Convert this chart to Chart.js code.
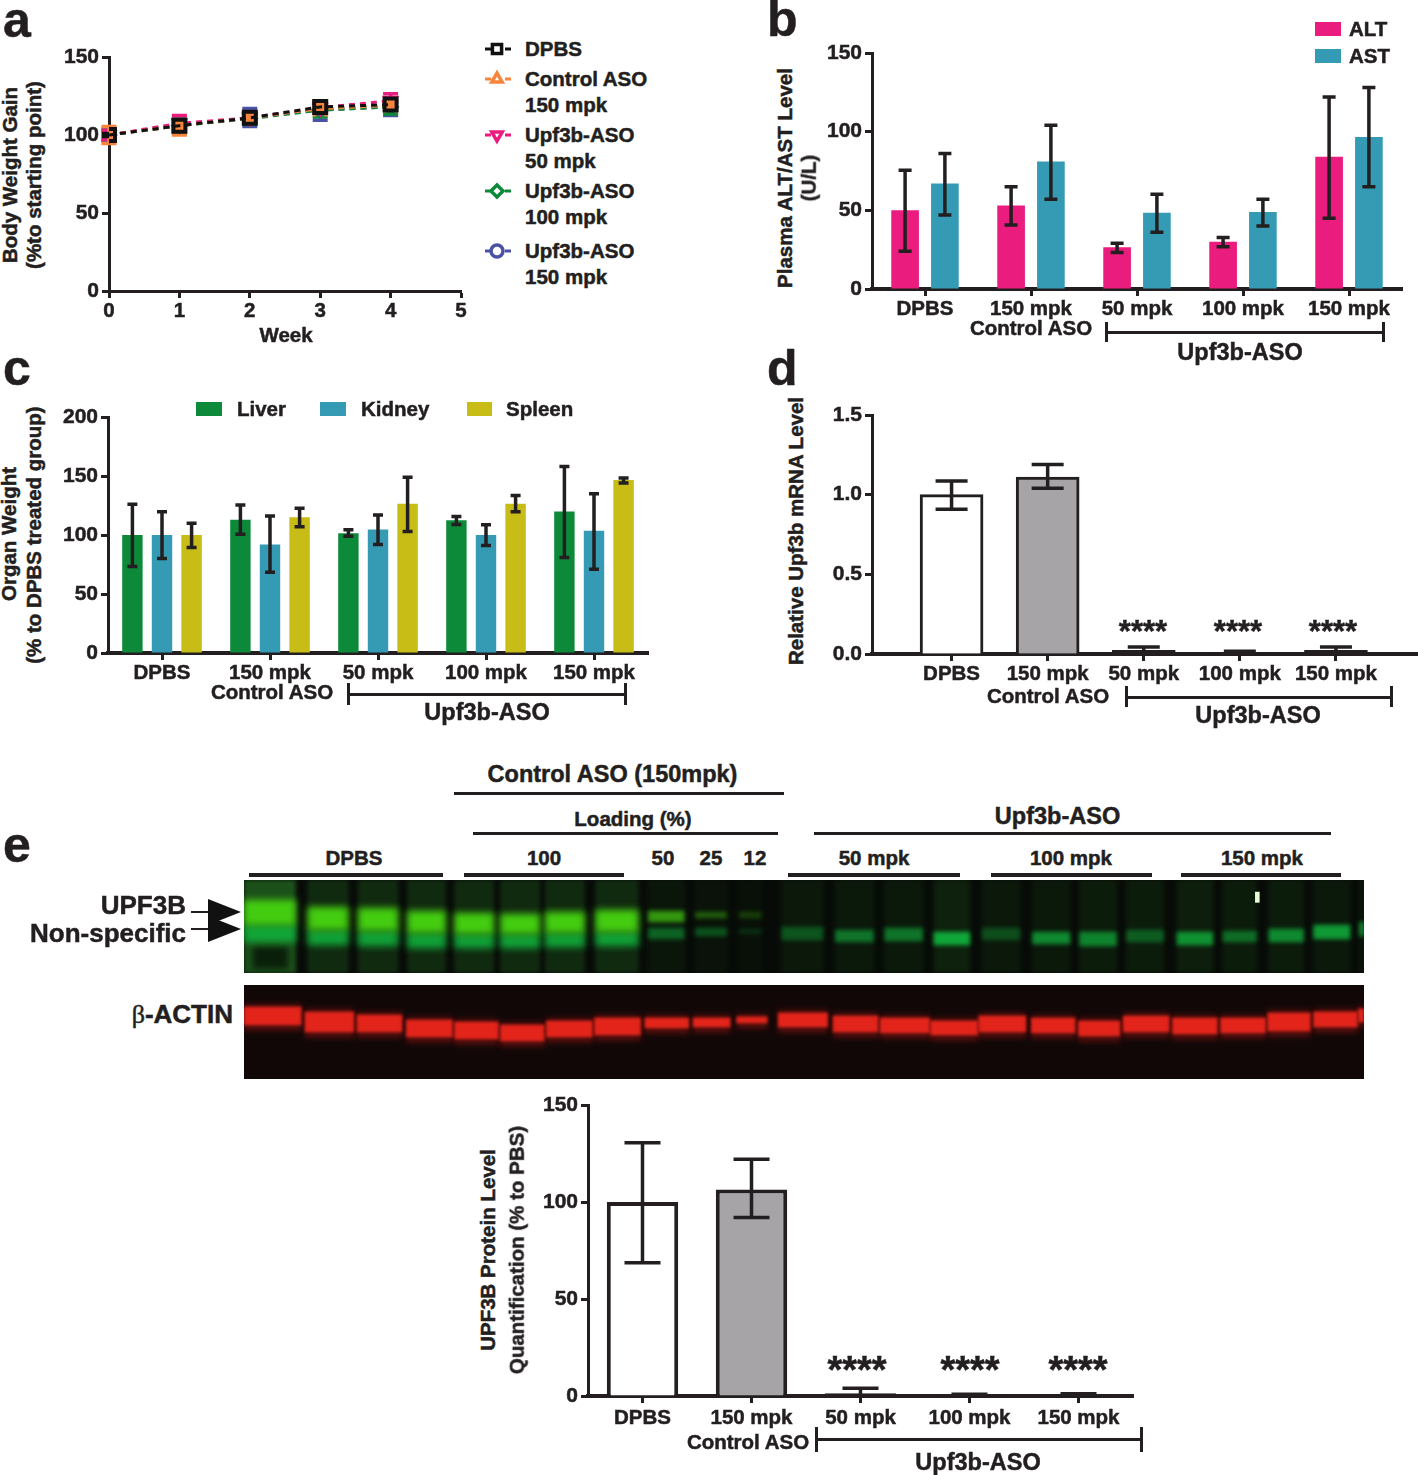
<!DOCTYPE html>
<html>
<head>
<meta charset="utf-8">
<title>Upf3b ASO figure</title>
<script src="https://cdn.jsdelivr.net/npm/chart.js@4"></script>
<style>
    html, body { margin: 0; padding: 0; background: #fff; }
    #page { position: relative; width: 1418px; height: 1475px; overflow: hidden; background: #fff; }
    canvas { position: absolute; display: block; }
    .txt { position: absolute; white-space: nowrap; line-height: 1; font-family: "Liberation Sans", sans-serif; font-weight: bold; color: #231f20; -webkit-text-stroke: 0.5px #231f20; }
    .rule { position: absolute; background: #231f20; }
    .serif { font-family: "Liberation Serif", serif; font-weight: normal; }
</style>
</head>
<body>
<div id="page"></div>
<script>
// panel a - body weight
const weeks = [0, 1, 2, 3, 4];
const dpbsWeight = [100, 106, 111, 118, 119.5];
const dpbsWeightHigh = [101, 108, 113, 120, 121];
const dpbsWeightLow = [99, 104, 109, 116, 118];
const controlWeight = [100, 106, 111, 117, 119];
const controlWeightHigh = [105.5, 110, 113, 121, 122];
const controlWeightLow = [94.5, 100, 108, 113, 115.5];
const upf50Weight = [100, 107.5, 111, 117.5, 122];
const upf50WeightHigh = [103, 112.5, 114, 121, 126.5];
const upf50WeightLow = [97, 103, 108, 114, 118];
const upf100Weight = [100, 106, 110.5, 116, 118];
const upf100WeightHigh = [103, 110, 114, 120, 122];
const upf100WeightLow = [97, 102, 107, 111.5, 113.5];
const upf150Weight = [100, 106, 111, 116, 118];
const upf150WeightHigh = [104, 111, 117, 120, 122];
const upf150WeightLow = [96, 101, 105.5, 109.5, 112.5];

// group names shared by the bar panels
const groups = ["DPBS", "150 mpk", "50 mpk", "100 mpk", "150 mpk"];

// panel b - plasma ALT/AST
const altLevel = [50, 53, 26.5, 30, 84];
const altHigh = [75.5, 65, 29, 32.7, 122];
const altLow = [24, 40.6, 23.2, 26.8, 45];
const astLevel = [67, 81, 48.5, 49, 96.6];
const astHigh = [86.2, 104, 60.2, 57, 128];
const astLow = [47, 57, 36, 40, 65];

// panel c - organ weight
const liverWeight = [100, 113, 101.5, 112.5, 120];
const liverHigh = [126, 125.5, 104.4, 115.7, 158];
const liverLow = [73.3, 100.7, 99, 109, 81];
const kidneyWeight = [100, 92, 104.7, 100, 103.5];
const kidneyHigh = [119.6, 116, 117, 108.6, 135];
const kidneyLow = [80, 68.5, 92, 91, 71];
const spleenWeight = [100, 115, 126.4, 126.4, 146.7];
const spleenHigh = [110, 122.7, 149, 133.4, 148.4];
const spleenLow = [89.4, 107, 103, 119.6, 144];

// panel d - mRNA
const mrnaLevel = [1.0, 1.11, 0.023, 0.01, 0.023];
const mrnaHigh = [1.086, 1.19, 0.044, 0.017, 0.044];
const mrnaLow = [0.908, 1.04, 0.003, 0.003, 0.002];

// panel e - protein
const proteinLevel = [100, 106.5, 1.4, 0.5, 0.5];
const proteinHigh = [130.6, 122, 4, 0.9, 1.2];
const proteinLow = [68.7, 92, 0, 0, 0];

// panel e - gel lanes, % of the gel width / height
const greenLaneLeft = [0, 5.7, 10.2, 14.6, 18.8, 22.9, 26.9, 31.4, 36.1, 40.3, 44.2, 48.0, 52.8, 57.2, 61.6, 65.9, 70.4, 74.6, 78.8, 83.3, 87.4, 91.5, 95.5, 99.6];
const greenLaneRight = [4.6, 9.3, 13.75, 18.0, 22.3, 26.4, 30.4, 35.2, 39.3, 43.1, 46.2, 51.7, 56.2, 60.6, 64.8, 69.3, 73.75, 77.9, 82.1, 86.5, 90.4, 94.6, 98.75, 100];
const upperTop = [21.5, 29, 30.1, 33.3, 35.5, 36.6, 34.4, 32.3, 33.3, 34.4, 34.4];
const upperBot = [48.4, 53.8, 54.8, 57, 58.1, 58.1, 57, 55.9, 45.2, 40.9, 40.9];
const upperGlow = [1, 1, 1, 1, 1, 1, 1, 1, 0.7, 0.4, 0.25];
const lowerTop = [48.4, 53.8, 54.8, 57, 58.1, 58.1, 57, 55.9, 51.6, 51.6, 52.7, 50.5, 53.8, 51.6, 55.9, 51.6, 55.9, 55.9, 53.8, 55.9, 54.8, 52.7, 48.4, 45.2];
const lowerBot = [66.7, 69.9, 71, 73.1, 73.1, 73.1, 72, 71, 63.4, 60.2, 58.1, 64.5, 66.7, 65.6, 69.9, 64.5, 68.8, 71, 66.7, 69.9, 66.7, 66.7, 63.4, 60.2];
const lowerGlow = [0.9, 0.9, 0.9, 0.9, 0.9, 0.9, 0.9, 0.9, 0.5, 0.4, 0.2, 0.4, 0.6, 0.6, 0.95, 0.35, 0.75, 0.7, 0.45, 0.8, 0.55, 0.75, 0.85, 0.8];
const smearGlow = [0.5, 0.22, 0.22, 0.22, 0.22, 0.22, 0.22, 0.22, 0.08, 0.05, 0.03, 0.09, 0.1, 0.1, 0.16, 0.09, 0.1, 0.12, 0.12, 0.14, 0.12, 0.12, 0.1, 0.08];
const actinLeft = [0, 5.45, 10.1, 14.5, 18.8, 22.9, 27, 31.3, 35.8, 40.1, 44, 47.7, 52.6, 56.8, 61.3, 65.6, 70.3, 74.5, 78.5, 82.9, 87.2, 91.4, 95.5, 99.5];
const actinRight = [5.1, 9.8, 14.1, 18.6, 22.7, 26.8, 31.1, 35.4, 39.7, 43.4, 46.7, 52.1, 56.6, 61.2, 65.5, 69.8, 74.2, 78.2, 82.6, 86.9, 91.2, 95.2, 99.4, 100];
const actinTop = [23.4, 28.7, 31.9, 37.2, 39.4, 42.6, 38.3, 35.1, 35.1, 35.1, 34, 29.8, 33, 35.1, 38.3, 33, 35.1, 38.3, 33, 35.1, 35.1, 29.8, 28.7, 25.5];
const actinBot = [42.6, 50, 50, 55.3, 57.4, 59.6, 55.3, 53.2, 45.7, 44.7, 40.4, 44.7, 50, 51.1, 53.2, 50, 51.1, 54.3, 50, 52.1, 51.1, 48.9, 44.7, 39.4];

const INK = "#231f20";
const PINK = "#ea1c7d";
const TEAL = "#359bb5";
const GREEN = "#0c8a3a";
const YELLOW = "#c8bd16";
const ORANGE = "#f7863c";
const BLUE = "#4a52a5";
const GREY = "#a6a4a7";
const GEL_W = 1120;

const page = document.getElementById("page");
Chart.defaults.animation = false;
Chart.defaults.font.family = "'Liberation Sans', sans-serif";
Chart.defaults.font.weight = "bold";
Chart.defaults.color = INK;

//text helper, x is the centre unless align says otherwise
function label(text, x, y, size, align) {
    const d = document.createElement("div");
    d.className = "txt";
    d.textContent = text;
    d.style.left = x + "px";
    d.style.top = y + "px";
    d.style.fontSize = size + "px";
    let tx = "-50%";
    if (align == "left") tx = "0";
    if (align == "right") tx = "-100%";
    d.style.transform = "translate(" + tx + ",-50%)";
    page.appendChild(d);
    return d;
}

function vlabel(text, x, y, size) {
    const d = label(text, x, y, size);
    d.style.transform = "translate(-50%,-50%) rotate(-90deg)";
    return d;
}

function rule(x1, y1, x2, y2) {
    const d = document.createElement("div");
    d.className = "rule";
    d.style.left = x1 + "px";
    d.style.top = y1 + "px";
    d.style.width = (x2 - x1) + "px";
    d.style.height = (y2 - y1) + "px";
    page.appendChild(d);
}

function bracket(x1, x2, y, up, down) {
    rule(x1, y - 1.5, x2, y + 1.5);
    rule(x1 - 1.5, y - up, x1 + 1.5, y + down);
    rule(x2 - 1.5, y - up, x2 + 1.5, y + down);
}

function swatch(x1, y1, x2, y2, color) {
    rule(x1, y1, x2, y2);
    page.lastChild.style.background = color;
}

//canvas whose chart area lands on L,T,R,B
const AXIS_W = 60, AXIS_H = 40, PAD_T = 20, NUDGE = 1;
function addCanvas(L, T, R, B, padR) {
    const c = document.createElement("canvas");
    c.width = R - L + AXIS_W + padR;
    c.height = B - T + PAD_T + AXIS_H;
    c.style.left = (L - AXIS_W) + "px";
    c.style.top = (T - PAD_T + NUDGE) + "px";
    page.appendChild(c);
    return c;
}

//whiskers, read from errHigh / errLow on each dataset
const errorBars = {
    id: "errorBars",
    draw(chart) {
        const y = chart.scales.y;
        const ctx = chart.ctx;
        const n = chart.data.datasets.length;
        for (let i = n - 1; i >= 0; i--) {
            const ds = chart.data.datasets[i];
            if (!ds.errHigh) continue;
            const cap = ds.capWidth / 2;
            ctx.save();
            ctx.strokeStyle = ds.errColor || INK;
            ctx.lineWidth = 3.5;
            chart.getDatasetMeta(i).data.forEach((el, j) => {
                const hi = y.getPixelForValue(ds.errHigh[j]);
                const lo = y.getPixelForValue(ds.errLow[j]);
                ctx.beginPath();
                ctx.moveTo(el.x, hi);
                ctx.lineTo(el.x, lo);
                ctx.moveTo(el.x - cap, hi);
                ctx.lineTo(el.x + cap, hi);
                ctx.moveTo(el.x - cap, lo);
                ctx.lineTo(el.x + cap, lo);
                ctx.stroke();
            });
            ctx.restore();
        }
    },
    beforeDatasetsDraw(chart, args, opts) {
        if (opts.under) this.draw(chart);
    },
    afterDatasetsDraw(chart, args, opts) {
        if (!opts.under) this.draw(chart);
    }
};

function axisY(max, step, fmt) {
    return {
        min: 0,
        max: max,
        afterFit(s) { s.width = AXIS_W; },
        border: { color: INK, width: 3 },
        grid: { drawOnChartArea: false, tickLength: 7, tickWidth: 3, tickColor: INK },
        ticks: { stepSize: step, padding: 3, font: { size: 21 }, color: INK, textStrokeColor: INK, textStrokeWidth: 0.5, callback: fmt }
    };
}

function axisX(pad) {
    return {
        afterFit(s) { s.height = AXIS_H; },
        border: { color: INK, width: 4 },
        grid: { offset: false, drawOnChartArea: false, tickLength: 7, tickWidth: 3, tickColor: INK },
        ticks: { padding: pad || 1, font: { size: 20.5 }, color: INK, textStrokeColor: INK, textStrokeWidth: 0.5, autoSkip: false, maxRotation: 0, minRotation: 0 }
    };
}

const chartOpts = (scales, padR, extra) => ({
    responsive: false,
    layout: { padding: { top: PAD_T, right: padR, left: 0, bottom: 0 } },
    plugins: Object.assign({ legend: { display: false }, tooltip: { enabled: false } }, extra || {}),
    scales: scales
});

const barSet = (values, high, low, color, cap) => ({
    data: values, errHigh: high, errLow: low, capWidth: cap,
    backgroundColor: color, borderWidth: 0
});

// ---------- panel a ----------
const lineSet = (values, high, low, color, style, radius, fill, rotation) => ({
    data: values.map((v, i) => ({ x: weeks[i], y: v })),
    errHigh: high, errLow: low, capWidth: 15, errColor: color,
    borderColor: color, borderWidth: 3, borderDash: [6, 5],
    pointStyle: style, pointRadius: radius, pointBorderColor: color, pointBorderWidth: 4,
    pointBackgroundColor: fill, pointRotation: rotation || 0
});

const weightSets = [
    lineSet(dpbsWeight, dpbsWeightHigh, dpbsWeightLow, "#111111", "rect", 8.5, "rgba(0,0,0,0)"),
    lineSet(controlWeight, controlWeightHigh, controlWeightLow, ORANGE, "rect", 6.5, ORANGE),
    lineSet(upf50Weight, upf50WeightHigh, upf50WeightLow, PINK, "triangle", 6, PINK, 180),
    lineSet(upf100Weight, upf100WeightHigh, upf100WeightLow, GREEN, "rectRot", 6, GREEN),
    lineSet(upf150Weight, upf150WeightHigh, upf150WeightLow, BLUE, "circle", 5, BLUE)
];
const legendMarks = ["rect", "triangle", "triangle", "rectRot", "circle"];

const legendRows = [49, 79, 135, 191, 251];
const legendTexts = [["DPBS"], ["Control ASO", "150 mpk"], ["Upf3b-ASO", "50 mpk"], ["Upf3b-ASO", "100 mpk"], ["Upf3b-ASO", "150 mpk"]];

//legend keys for panel a, the texts are real labels next to them
const weightKeys = {
    id: "weightKeys",
    afterDraw(chart) {
        const ctx = chart.ctx;
        const left = 109 - AXIS_W, top = 56 - PAD_T + NUDGE;
        chart.data.datasets.forEach((ds, i) => {
            const y = legendRows[i] - top;
            ctx.save();
            ctx.strokeStyle = ds.borderColor;
            ctx.lineWidth = 3;
            ctx.setLineDash([6, 14]);
            ctx.beginPath();
            ctx.moveTo(485 - left, y);
            ctx.lineTo(511 - left, y);
            ctx.stroke();
            ctx.setLineDash([]);
            ctx.lineWidth = 3.5;
            ctx.fillStyle = "#fff";
            Chart.helpers.drawPoint(ctx, {
                pointStyle: legendMarks[i], radius: legendMarks[i] == "rect" ? 6.5 : 6,
                rotation: ds.pointRotation, borderWidth: 3.5
            }, 497 - left, y);
            ctx.restore();
        });
    }
};

new Chart(addCanvas(109, 56, 461, 290, 60), {
    type: "line",
    data: { datasets: weightSets },
    options: chartOpts({
        x: Object.assign(axisX(), { type: "linear", min: 0, max: 5, border: { color: INK, width: 3 } }),
        y: axisY(150, 50)
    }, 60, { errorBars: { under: true } }),
    plugins: [errorBars, weightKeys]
});
legendTexts.forEach((lines, i) => {
    label(lines[0], 525, legendRows[i], 20.5, "left");
    if (lines[1]) label(lines[1], 525, legendRows[i] + 25.5, 20.5, "left");
});
label("a", 3, 20, 50, "left");
vlabel("Body Weight Gain", 10, 175, 20.5);
vlabel("(%to starting point)", 34, 175, 20.5);
label("Week", 286, 335, 20.5);

// ---------- panel b ----------
new Chart(addCanvas(872, 52, 1402, 288, 3), {
    type: "bar",
    data: {
        labels: groups,
        datasets: [
            barSet(altLevel, altHigh, altLow, PINK, 13),
            barSet(astLevel, astHigh, astLow, TEAL, 13)
        ]
    },
    options: Object.assign(chartOpts({ x: axisX(), y: axisY(150, 50) }, 3), {
        datasets: { bar: { categoryPercentage: 0.751, barPercentage: 0.695 } }
    }),
    plugins: [errorBars]
});
label("b", 767, 19, 50, "left");
vlabel("Plasma ALT/AST Level", 785, 178, 20.5);
vlabel("(U/L)", 809, 178, 20.5);
swatch(1315, 22, 1341, 36, PINK);
swatch(1315, 49, 1341, 63, TEAL);
label("ALT", 1349, 29, 20.5, "left");
label("AST", 1349, 56, 20.5, "left");
label("Control ASO", 1031, 328, 20.5);
bracket(1106, 1383, 332, 10, 10);
label("Upf3b-ASO", 1240, 353, 23.5);

// ---------- panel c ----------
new Chart(addCanvas(108, 416, 648, 652, 3), {
    type: "bar",
    data: {
        labels: groups,
        datasets: [
            barSet(liverWeight, liverHigh, liverLow, GREEN, 10),
            barSet(kidneyWeight, kidneyHigh, kidneyLow, TEAL, 10),
            barSet(spleenWeight, spleenHigh, spleenLow, YELLOW, 10)
        ]
    },
    options: Object.assign(chartOpts({ x: axisX(), y: axisY(200, 50) }, 3), {
        datasets: { bar: { categoryPercentage: 0.822, barPercentage: 0.69 } }
    }),
    plugins: [errorBars]
});
label("c", 3, 368, 50, "left");
vlabel("Organ Weight", 9, 534, 20.5);
vlabel("(% to DPBS treated group)", 34, 535, 20.5);
swatch(196, 402, 222, 416, GREEN);
swatch(320, 402, 346, 416, TEAL);
swatch(467, 402, 492, 416, YELLOW);
label("Liver", 237, 409, 20.5, "left");
label("Kidney", 361, 409, 20.5, "left");
label("Spleen", 506, 409, 20.5, "left");
label("Control ASO", 272, 692, 20.5);
bracket(348, 625, 694, 11, 11);
label("Upf3b-ASO", 487, 713, 23.5);

// ---------- panel d ----------
//the three knockdown bars are so low they read as solid outline
const outlined = [
    "#ffffff", GREY, INK, INK, INK
];
//the axis runs past the bars on both sides here, so x is numeric
new Chart(addCanvas(872, 414, 1418, 653, 0), {
    type: "bar",
    data: {
        datasets: [{
            data: mrnaLevel.map((v, i) => ({ x: i, y: v })),
            errHigh: mrnaHigh, errLow: mrnaLow, capWidth: 32,
            backgroundColor: outlined, borderColor: INK, borderWidth: 3, barThickness: 63
        }]
    },
    options: chartOpts({
        x: Object.assign(axisX(), {
            type: "linear", min: -0.828, max: 4.854, offset: false,
            afterBuildTicks(s) { s.ticks = groups.map((g, i) => ({ value: i })); },
            ticks: Object.assign(axisX().ticks, { callback: v => groups[v] })
        }),
        y: axisY(1.5, 0.5, v => v.toFixed(1))
    }, 0),
    plugins: [errorBars]
});
label("d", 767, 368, 50, "left");
vlabel("Relative Upf3b mRNA Level", 796, 531, 20.5);
label("****", 1143, 631, 31);
label("****", 1238, 631, 31);
label("****", 1333, 631, 31);
label("Control ASO", 1048, 696, 20.5);
bracket(1126, 1391, 697, 11, 10);
label("Upf3b-ASO", 1258, 716, 23.5);

// ---------- panel e, blots ----------
//each band carries its own softness
const gelBlur = {
    id: "gelBlur",
    beforeDatasetDraw(chart, args) {
        chart.ctx.save();
        chart.ctx.filter = "blur(" + chart.data.datasets[args.index].blur + "px)";
    },
    afterDatasetDraw(chart) {
        chart.ctx.restore();
    }
};

const gelBand = (left, right, top, bot, color, blur) => ({
    data: [{ x: (left + right) / 2, y: [top, bot] }],
    barThickness: (right - left) * GEL_W / 100,
    backgroundColor: color, borderWidth: 0, blur: blur
});

function addGel(top, height, color, sets) {
    const c = document.createElement("canvas");
    c.width = GEL_W;
    c.height = height;
    c.style.left = "244px";
    c.style.top = top + "px";
    c.style.background = color;
    page.appendChild(c);
    new Chart(c, {
        type: "bar",
        data: { datasets: sets },
        options: {
            responsive: false,
            layout: { padding: 0 },
            datasets: { bar: { grouped: false } },
            plugins: { legend: { display: false }, tooltip: { enabled: false } },
            scales: {
                x: { type: "linear", min: 0, max: 100, offset: false, display: false },
                y: { min: 0, max: 100, reverse: true, display: false }
            }
        },
        plugins: [gelBlur]
    });
    c.style.position = "absolute";
    c.style.left = "244px";
    c.style.top = top + "px";
}

//datasets paint last to first, so the later unshift ends up on top
const greenSets = [];
greenLaneLeft.forEach((l, i) => {
    greenSets.push(gelBand(l, greenLaneRight[i], 0, 100, "rgba(50,150,45," + smearGlow[i] + ")", 2));
});
greenSets.unshift(gelBand(0.8, 3.9, 72, 95, "rgba(6,22,6,0.85)", 3));
greenLaneLeft.forEach((l, i) => {
    greenSets.unshift(gelBand(l, greenLaneRight[i], lowerTop[i], lowerBot[i], "rgba(16,175,60," + lowerGlow[i] + ")", i < 8 ? 3.5 : 2.2));
});
upperTop.forEach((t, i) => {
    greenSets.unshift(gelBand(greenLaneLeft[i], greenLaneRight[i], t, upperBot[i], "rgba(68,205,16," + upperGlow[i] + ")", i < 8 ? 3.5 : 2));
});
greenSets.unshift(gelBand(90.3, 90.65, 13, 24, "#e8ffd8", 0.4));
addGel(880, 93, "#070b07", greenSets);

const redSets = actinLeft.map((l, i) => gelBand(l, actinRight[i], actinTop[i], actinBot[i], "#e2241b", 1.6));
actinLeft.forEach((l, i) => {
    redSets.push(gelBand(l, actinRight[i], actinTop[i] - 3, actinBot[i] + 6, "rgba(170,25,20,0.4)", 2.5));
});
addGel(985, 94, "#120707", redSets);

//arrows on the left of the blot
const svgNS = "http://www.w3.org/2000/svg";
const arrows = document.createElementNS(svgNS, "svg");
arrows.setAttribute("width", "60");
arrows.setAttribute("height", "60");
arrows.style.position = "absolute";
arrows.style.left = "188px";
arrows.style.top = "890px";
["20,9 53,22 20,35", "20,26 53,39 20,52"].forEach(pts => {
    const p = document.createElementNS(svgNS, "polygon");
    p.setAttribute("points", pts);
    p.setAttribute("fill", "#111");
    arrows.appendChild(p);
});
page.appendChild(arrows);
rule(191, 911, 208, 913);
rule(191, 928, 208, 930);

label("e", 3, 845, 50, "left");
label("UPF3B", 186, 905, 26, "right");
label("Non-specific", 186, 933, 26, "right");
const actinText = label("-ACTIN", 233, 1014, 26, "right");
const beta = document.createElement("span");
beta.className = "serif";
beta.textContent = "β";
actinText.prepend(beta);

label("Control ASO (150mpk)", 612.5, 775, 23.5);
rule(454, 791.5, 784, 794.5);
label("Loading (%)", 633, 819, 20.5);
rule(473, 831.5, 778, 834.5);
label("Upf3b-ASO", 1057.5, 817, 23.5);
rule(814, 831.5, 1331, 834.5);
label("DPBS", 354, 858, 20.5);
rule(249, 873, 443, 876.5);
label("100", 544, 858, 20.5);
rule(464, 873, 624, 876.5);
label("50", 663, 858, 20.5);
label("25", 711, 858, 20.5);
label("12", 755, 858, 20.5);
label("50 mpk", 874, 858, 20.5);
rule(788, 873, 960, 876.5);
label("100 mpk", 1071, 858, 20.5);
rule(991, 873, 1152, 876.5);
label("150 mpk", 1262, 858, 20.5);
rule(1181, 873, 1341, 876.5);

// ---------- panel e, protein bars ----------
new Chart(addCanvas(588, 1104, 1133, 1395, 3), {
    type: "bar",
    data: {
        labels: groups,
        datasets: [{
            data: proteinLevel, errHigh: proteinHigh, errLow: proteinLow, capWidth: 36,
            backgroundColor: outlined, borderColor: INK, borderWidth: 4
        }]
    },
    options: Object.assign(chartOpts({ x: axisX(3), y: axisY(150, 50) }, 3), {
        datasets: { bar: { categoryPercentage: 1, barPercentage: 0.655 } }
    }),
    plugins: [errorBars]
});
vlabel("UPF3B Protein Level", 488, 1250, 20.5);
vlabel("Quantification (% to PBS)", 517, 1250, 20.5);
label("****", 857, 1370, 38);
label("****", 970, 1370, 38);
label("****", 1078, 1370, 38);
label("Control ASO", 748, 1442, 20.5);
bracket(816, 1141, 1439, 12, 13);
label("Upf3b-ASO", 978, 1463, 23.5);
</script>
</body>
</html>
